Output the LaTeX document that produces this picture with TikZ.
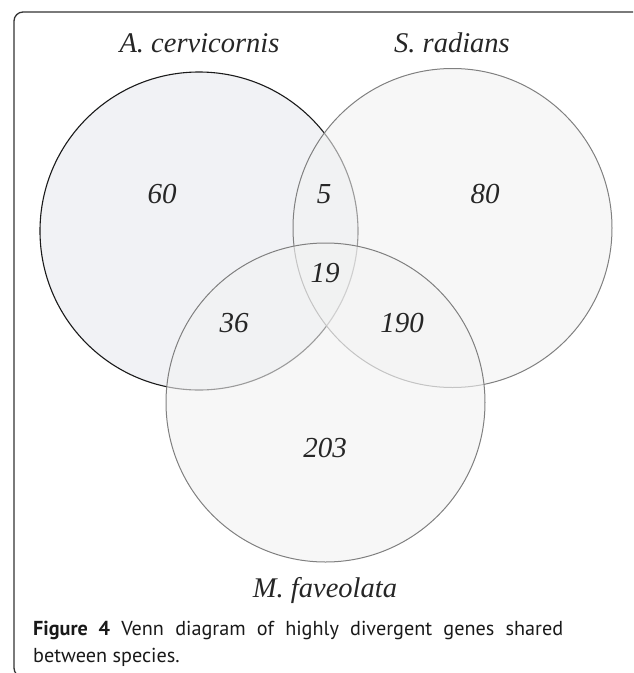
\documentclass[tikz,border=0pt]{standalone}
\usepackage{fontspec}
\setmainfont{Liberation Serif}
\newfontfamily\capfont{PT Sans}
\definecolor{fillA}{HTML}{F1F2F5}
\definecolor{fillB}{HTML}{F2F2F2}
\definecolor{edgeA}{HTML}{1A1A1A}
\definecolor{edgeB}{HTML}{808080}
\definecolor{framec}{HTML}{333333}
\tikzset{
  species/.style={font=\fontsize{28.5}{30}\selectfont\itshape, text=black!85, inner sep=0pt, anchor=base},
  count/.style={font=\fontsize{29}{30}\selectfont\itshape, text=black!85, inner sep=0pt},
  captext/.style={font=\capfont\fontsize{20.2}{22}\selectfont, text=black!90, inner sep=0pt, anchor=base west},
}
\begin{document}
\begin{tikzpicture}[x=1pt,y=-1pt]
\useasboundingbox (0,0) rectangle (633,673);
\begin{scope}
\clip (0,0) rectangle (633,673);
\draw[framec, line width=1.3pt, rounded corners=9pt] (14,12) rectangle (700,677);
\end{scope}
% circles
\path[fill=fillA, draw=edgeA, line width=1.1pt] (199,231) circle [radius=159pt];
\path[fill=fillB, fill opacity=0.6, draw=edgeB, line width=1pt] (452.5,228) circle [radius=159.5pt];
\path[fill=fillB, fill opacity=0.6, draw=edgeB, line width=1pt] (325.5,402.5) circle [radius=159.5pt];
% species
\node[species] (ac) at (199.5,52) {A. cervicornis};
\node[species] (sr) at (452,52) {S. radians};
\node[species] (mf) at (325,597) {M. faveolata};
% counts
\node[count] (n60) at (162,194) {60};
\node[count] (n5) at (324,194) {5};
\node[count] (n80) at (485,194) {80};
\node[count] (n19) at (325,273) {19};
\node[count] (n36) at (234,323) {36};
\node[count] (n190) at (402,323) {190};
\node[count] (n203) at (325,448) {203};
% caption
\node[captext] (cap1) at (33,635) {\makebox[530pt][s]{\textbf{Figure 4} Venn diagram of highly divergent genes shared}};
\node[captext] (cap2) at (33,662) {between species.};
\end{tikzpicture}
\end{document}
